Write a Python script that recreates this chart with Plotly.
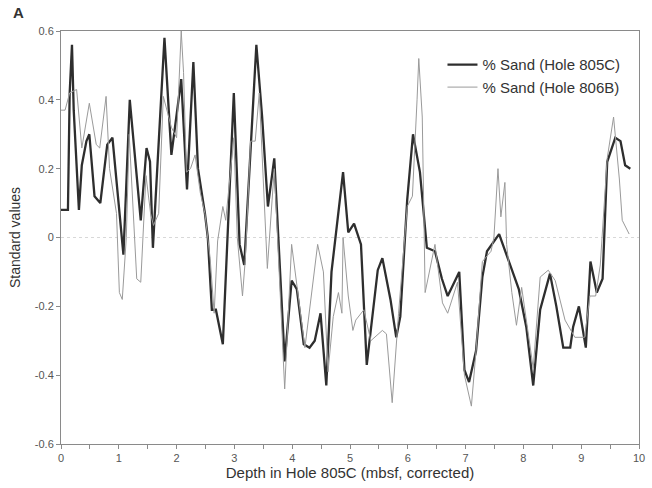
import plotly.graph_objects as go

# % sand, Hole 805C (standardised), depth in mbsf (corrected)
depth_805c = [0.00, 0.12, 0.15, 0.19, 0.22, 0.31, 0.36, 0.44, 0.49, 0.58, 0.68, 0.80, 0.89,
              1.08, 1.19, 1.38, 1.48, 1.54, 1.59, 1.79, 1.91, 2.08, 2.18, 2.29, 2.37, 2.49,
              2.54, 2.61, 2.68, 2.80, 2.99, 3.09, 3.17, 3.38, 3.48, 3.58, 3.69, 3.87, 3.99,
              4.08, 4.20, 4.30, 4.39, 4.49, 4.59, 4.68, 4.88, 4.97, 5.07, 5.19, 5.29, 5.48,
              5.56, 5.70, 5.80, 5.87, 5.99, 6.09, 6.21, 6.33, 6.47, 6.59, 6.69, 6.81, 6.89,
              6.98, 7.06, 7.18, 7.29, 7.37, 7.58, 7.75, 7.92, 8.05, 8.17, 8.29, 8.46, 8.57,
              8.69, 8.81, 8.86, 8.96, 9.08, 9.16, 9.27, 9.37, 9.45, 9.59, 9.68, 9.76, 9.85]
sand_805c = [0.08, 0.08, 0.42, 0.56, 0.37, 0.08, 0.21, 0.28, 0.30, 0.12, 0.10, 0.27, 0.29,
             -0.05, 0.40, 0.05, 0.26, 0.22, -0.03, 0.58, 0.24, 0.46, 0.14, 0.51, 0.20, 0.07,
             0.00, -0.21, -0.21, -0.31, 0.42, -0.02, -0.08, 0.56, 0.35, 0.09, 0.23, -0.36, -0.125,
             -0.15, -0.31, -0.32, -0.30, -0.22, -0.43, -0.10, 0.19, 0.015, 0.04, -0.02, -0.37, -0.095,
             -0.06, -0.18, -0.29, -0.23, 0.11, 0.30, 0.19, -0.03, -0.04, -0.12, -0.17, -0.125, -0.10,
             -0.385, -0.42, -0.33, -0.115, -0.04, 0.01, -0.07, -0.15, -0.26, -0.43, -0.21, -0.105, -0.20,
             -0.32, -0.32, -0.26, -0.20, -0.32, -0.07, -0.16, -0.12, 0.22, 0.29, 0.28, 0.21, 0.20]

# % sand, Hole 806B (standardised), mapped onto the 805C depth scale
depth_806b = [0.00, 0.07, 0.15, 0.27, 0.36, 0.49, 0.61, 0.67, 0.78, 0.84, 0.96, 1.01, 1.06,
              1.13, 1.18, 1.23, 1.31, 1.38, 1.47, 1.55, 1.60, 1.69, 1.77, 1.91, 2.00, 2.08,
              2.12, 2.17, 2.24, 2.32, 2.41, 2.49, 2.58, 2.65, 2.71, 2.80, 2.85, 2.99, 3.05,
              3.14, 3.19, 3.28, 3.36, 3.43, 3.57, 3.69, 3.87, 3.99, 4.22, 4.44, 4.54, 4.62,
              4.71, 4.80, 4.86, 4.88, 4.97, 5.05, 5.10, 5.24, 5.36, 5.56, 5.63, 5.73, 5.84,
              5.99, 6.08, 6.16, 6.19, 6.25, 6.30, 6.47, 6.60, 6.69, 6.86, 6.98, 7.10, 7.18,
              7.29, 7.44, 7.49, 7.56, 7.61, 7.68, 7.71, 7.80, 7.88, 7.97, 8.09, 8.17, 8.29,
              8.43, 8.55, 8.72, 8.89, 9.06, 9.15, 9.25, 9.33, 9.45, 9.56, 9.66, 9.71, 9.83]
sand_806b = [0.37, 0.37, 0.42, 0.43, 0.26, 0.39, 0.27, 0.26, 0.41, 0.20, 0.07, -0.16, -0.18,
             0.00, 0.30, 0.13, -0.12, -0.13, 0.18, 0.07, 0.035, 0.07, 0.41, 0.32, 0.29, 0.60,
             0.48, 0.19, 0.20, 0.24, 0.13, 0.07, -0.06, -0.22, -0.01, 0.09, 0.05, 0.29, 0.00,
             -0.17, -0.06, 0.28, 0.28, 0.42, -0.09, 0.20, -0.44, -0.02, -0.32, -0.02, -0.10, -0.39,
             -0.23, -0.16, -0.22, 0.00, -0.17, -0.27, -0.24, -0.21, -0.30, -0.27, -0.28, -0.48, -0.22,
             0.09, 0.12, 0.40, 0.52, 0.35, -0.16, -0.02, -0.19, -0.22, -0.13, -0.40, -0.49, -0.33,
             -0.07, -0.04, 0.00, 0.20, 0.06, 0.16, -0.02, -0.16, -0.255, -0.145, -0.28, -0.38, -0.115,
             -0.095, -0.125, -0.24, -0.29, -0.29, -0.17, -0.17, -0.08, 0.23, 0.35, 0.17, 0.05, 0.01]

x_ticks = [0, 1, 2, 3, 4, 5, 6, 7, 8, 9, 10]
y_ticks = [0.6, 0.4, 0.2, 0, -0.2, -0.4, -0.6]
y_tick_labels = ["0.6", "0.4", "0.2", "0", "-0.2", "-0.4", "-0.6"]

FONT = "Liberation Sans, Arial, sans-serif"
AXIS_GREY = "#8a8a8a"

fig = go.Figure()
fig.add_trace(go.Scatter(
    x=depth_805c, y=sand_805c, mode="lines", name="% Sand (Hole 805C)",
    line=dict(color="#2e2e2e", width=2.3),
))
fig.add_trace(go.Scatter(
    x=depth_806b, y=sand_806b, mode="lines", name="% Sand (Hole 806B)",
    line=dict(color="#9a9a9a", width=1),
))

fig.update_layout(
    width=652, height=488,
    margin=dict(l=61, r=7, t=31, b=44),
    paper_bgcolor="white", plot_bgcolor="white",
    font=dict(family=FONT, size=12, color="#333333"),
    showlegend=True,
    legend=dict(
        x=0.66, y=0.958, xanchor="left", yanchor="top",
        bgcolor="rgba(0,0,0,0)", font=dict(size=15, color="#333333"),
        itemwidth=30,
    ),
    annotations=[dict(
        text="<b>A</b>", xref="paper", yref="paper", x=-0.074, y=1.046,
        xanchor="center", yanchor="middle", showarrow=False,
        font=dict(size=15, color="#333333"),
    )],
)

fig.update_xaxes(
    range=[0, 10], tickvals=x_ticks, ticks="outside", ticklen=4, tickcolor=AXIS_GREY,
    minor=dict(dtick=0.5, ticks="outside", ticklen=4, tickcolor=AXIS_GREY),
    showline=True, linecolor=AXIS_GREY, linewidth=1, mirror=True, showgrid=False,
    zeroline=False, tickfont=dict(size=11, color="#555555"),
    title=dict(text="Depth in Hole 805C (mbsf, corrected)", font=dict(size=15, color="#333333"),
               standoff=2),
)
fig.update_yaxes(
    range=[-0.6, 0.6], tickvals=y_ticks, ticktext=y_tick_labels, ticks="outside", ticklen=4,
    tickcolor=AXIS_GREY, showline=True, linecolor=AXIS_GREY, linewidth=1, mirror=True,
    showgrid=False, zeroline=False, tickfont=dict(size=11, color="#555555"),
    title=dict(text="Standard values", font=dict(size=14, color="#333333"), standoff=10),
)

# faint dotted reference line at zero
fig.add_hline(y=0, line=dict(color="#d8d8d8", width=1, dash="dot"), layer="below")

fig.write_html("out.html")
